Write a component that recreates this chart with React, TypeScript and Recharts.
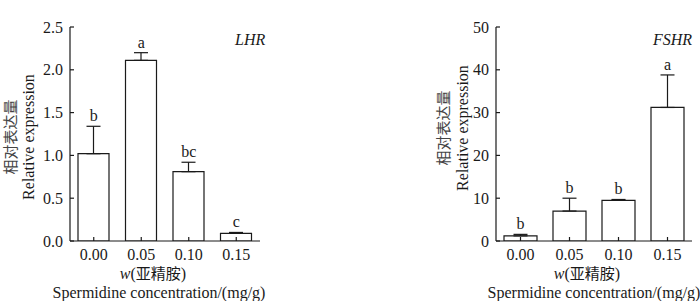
import React from 'react';
import { ComposedChart, Bar, Line, XAxis, YAxis, ErrorBar, LabelList, Label, Customized } from 'recharts';

const concentrations = ['0.00', '0.05', '0.10', '0.15'];
const lhrMean = [1.02, 2.11, 0.81, 0.09];
const lhrSD = [0.32, 0.09, 0.11, 0.01];
const lhrSig = ['b', 'a', 'bc', 'c'];
const lhrTicks = [0, 0.5, 1.0, 1.5, 2.0, 2.5];

const fshrMean = [1.2, 7.0, 9.5, 31.2];
const fshrSD = [0.35, 3.0, 0.2, 7.6];
const fshrSig = ['b', 'b', 'b', 'a'];
const fshrTicks = [0, 10, 20, 30, 40, 50];

const FONT = '"Liberation Serif", "Times New Roman", serif';
const CJK = '"Noto Sans CJK SC", sans-serif';
const INK = '#1a1a1a';

function buildRows(means: number[], sds: number[], sigs: string[]) {
  return concentrations.map((c, i) => ({
    name: c,
    mean: means[i],
    err: [0, sds[i]],
    top: means[i] + sds[i],
    sig: sigs[i],
  }));
}

const lhrRows = buildRows(lhrMean, lhrSD, lhrSig);
const fshrRows = buildRows(fshrMean, fshrSD, fshrSig);

const renderSig = (props: any) => {
  const { x, y, value } = props;
  return (
    <text x={x} y={y - 5} textAnchor="middle" fontFamily={FONT} fontSize={16} fill={INK}>
      {value}
    </text>
  );
};

type PanelProps = {
  rows: any[];
  ticks: number[];
  fmt: (v: number) => string;
  gene: string;
  width: number;
  left: number;
  marginLeft: number;
  marginRight: number;
  barSize: number;
  yCnX: number;
  yEnX: number;
  yLabCY: number;
  xLab1DX: number;
  xLab2DX: number;
  geneX: number;
};

function Panel(p: PanelProps) {
  const height = 301;
  return (
    <div style={{ position: 'absolute', left: p.left, top: 0, width: p.width, height }}>
      <ComposedChart
        width={p.width}
        height={height}
        data={p.rows}
        margin={{ top: 27, right: p.marginRight, bottom: 30, left: p.marginLeft }}
      >
        <XAxis
          dataKey="name"
          height={30}
          tickSize={-4}
          tickMargin={12}
          axisLine={{ stroke: INK, strokeWidth: 1.2 }}
          tickLine={{ stroke: INK, strokeWidth: 1.2 }}
          tick={{ fontFamily: FONT, fontSize: 16, fill: INK }}
        >
          <Label
            content={(lp: any) => {
              const vb = lp.viewBox || {};
              const cx = vb.x + vb.width / 2;
              return (
                <g>
                  <text x={cx + p.xLab1DX} y={279} textAnchor="middle" fontFamily={FONT} fontSize={16} fill={INK}>
                    <tspan fontStyle="italic">w</tspan>
                    <tspan>(</tspan>
                    <tspan fontFamily={CJK} fontSize={15}>亚精胺</tspan>
                    <tspan>)</tspan>
                  </text>
                  <text x={cx + p.xLab2DX} y={298} textAnchor="middle" fontFamily={FONT} fontSize={16} fill={INK}>
                    Spermidine concentration/(mg/g)
                  </text>
                </g>
              );
            }}
          />
        </XAxis>
        <YAxis
          width={50}
          domain={[p.ticks[0], p.ticks[p.ticks.length - 1]]}
          ticks={p.ticks}
          allowDataOverflow
          interval={0}
          tickSize={-4}
          tickMargin={11}
          tickFormatter={p.fmt}
          axisLine={{ stroke: INK, strokeWidth: 1.2 }}
          tickLine={{ stroke: INK, strokeWidth: 1.2 }}
          tick={{ fontFamily: FONT, fontSize: 16, fill: INK }}
        >
          <Label
            content={() => (
              <g>
                <text
                  x={p.yCnX}
                  y={p.yLabCY}
                  textAnchor="middle"
                  dominantBaseline="central"
                  transform={`rotate(-90 ${p.yCnX} ${p.yLabCY})`}
                  fontFamily={CJK}
                  fontSize={15}
                  fill="#444"
                >
                  相对表达量
                </text>
                <text
                  x={p.yEnX}
                  y={p.yLabCY}
                  textAnchor="middle"
                  dominantBaseline="central"
                  transform={`rotate(-90 ${p.yEnX} ${p.yLabCY})`}
                  fontFamily={FONT}
                  fontSize={16}
                  fill={INK}
                >
                  Relative expression
                </text>
              </g>
            )}
          />
        </YAxis>
        <Bar dataKey="mean" fill="#fff" stroke={INK} strokeWidth={1.2} barSize={p.barSize} isAnimationActive={false}>
          <ErrorBar dataKey="err" direction="y" width={7} stroke={INK} strokeWidth={1.2} isAnimationActive={false} />
        </Bar>
        <Line
          dataKey="top"
          stroke="none"
          dot={false}
          activeDot={false}
          legendType="none"
          isAnimationActive={false}
        >
          <LabelList dataKey="sig" content={renderSig} />
        </Line>
        <Customized
          component={() => (
            <text x={p.geneX} y={45} fontFamily={FONT} fontStyle="italic" fontSize={16} fill={INK}>
              {p.gene}
            </text>
          )}
        />
      </ComposedChart>
    </div>
  );
}

export default function App() {
  return (
    <div style={{ position: 'absolute', left: 0, top: 0, width: 700, height: 301, background: '#fff', overflow: 'hidden' }}>
      <Panel
        rows={lhrRows}
        ticks={lhrTicks}
        fmt={(v) => v.toFixed(1)}
        gene="LHR"
        width={350}
        left={0}
        marginLeft={20}
        marginRight={90}
        barSize={31}
        yCnX={9}
        yEnX={28}
        yLabCY={137}
        xLab1DX={-12}
        xLab2DX={-6}
        geneX={235}
      />
      <Panel
        rows={fshrRows}
        ticks={fshrTicks}
        fmt={(v) => String(v)}
        gene="FSHR"
        width={350}
        left={350}
        marginLeft={96}
        marginRight={8}
        barSize={33}
        yCnX={92}
        yEnX={112}
        yLabCY={128}
        xLab1DX={-7}
        xLab2DX={0}
        geneX={303}
      />
    </div>
  );
}
